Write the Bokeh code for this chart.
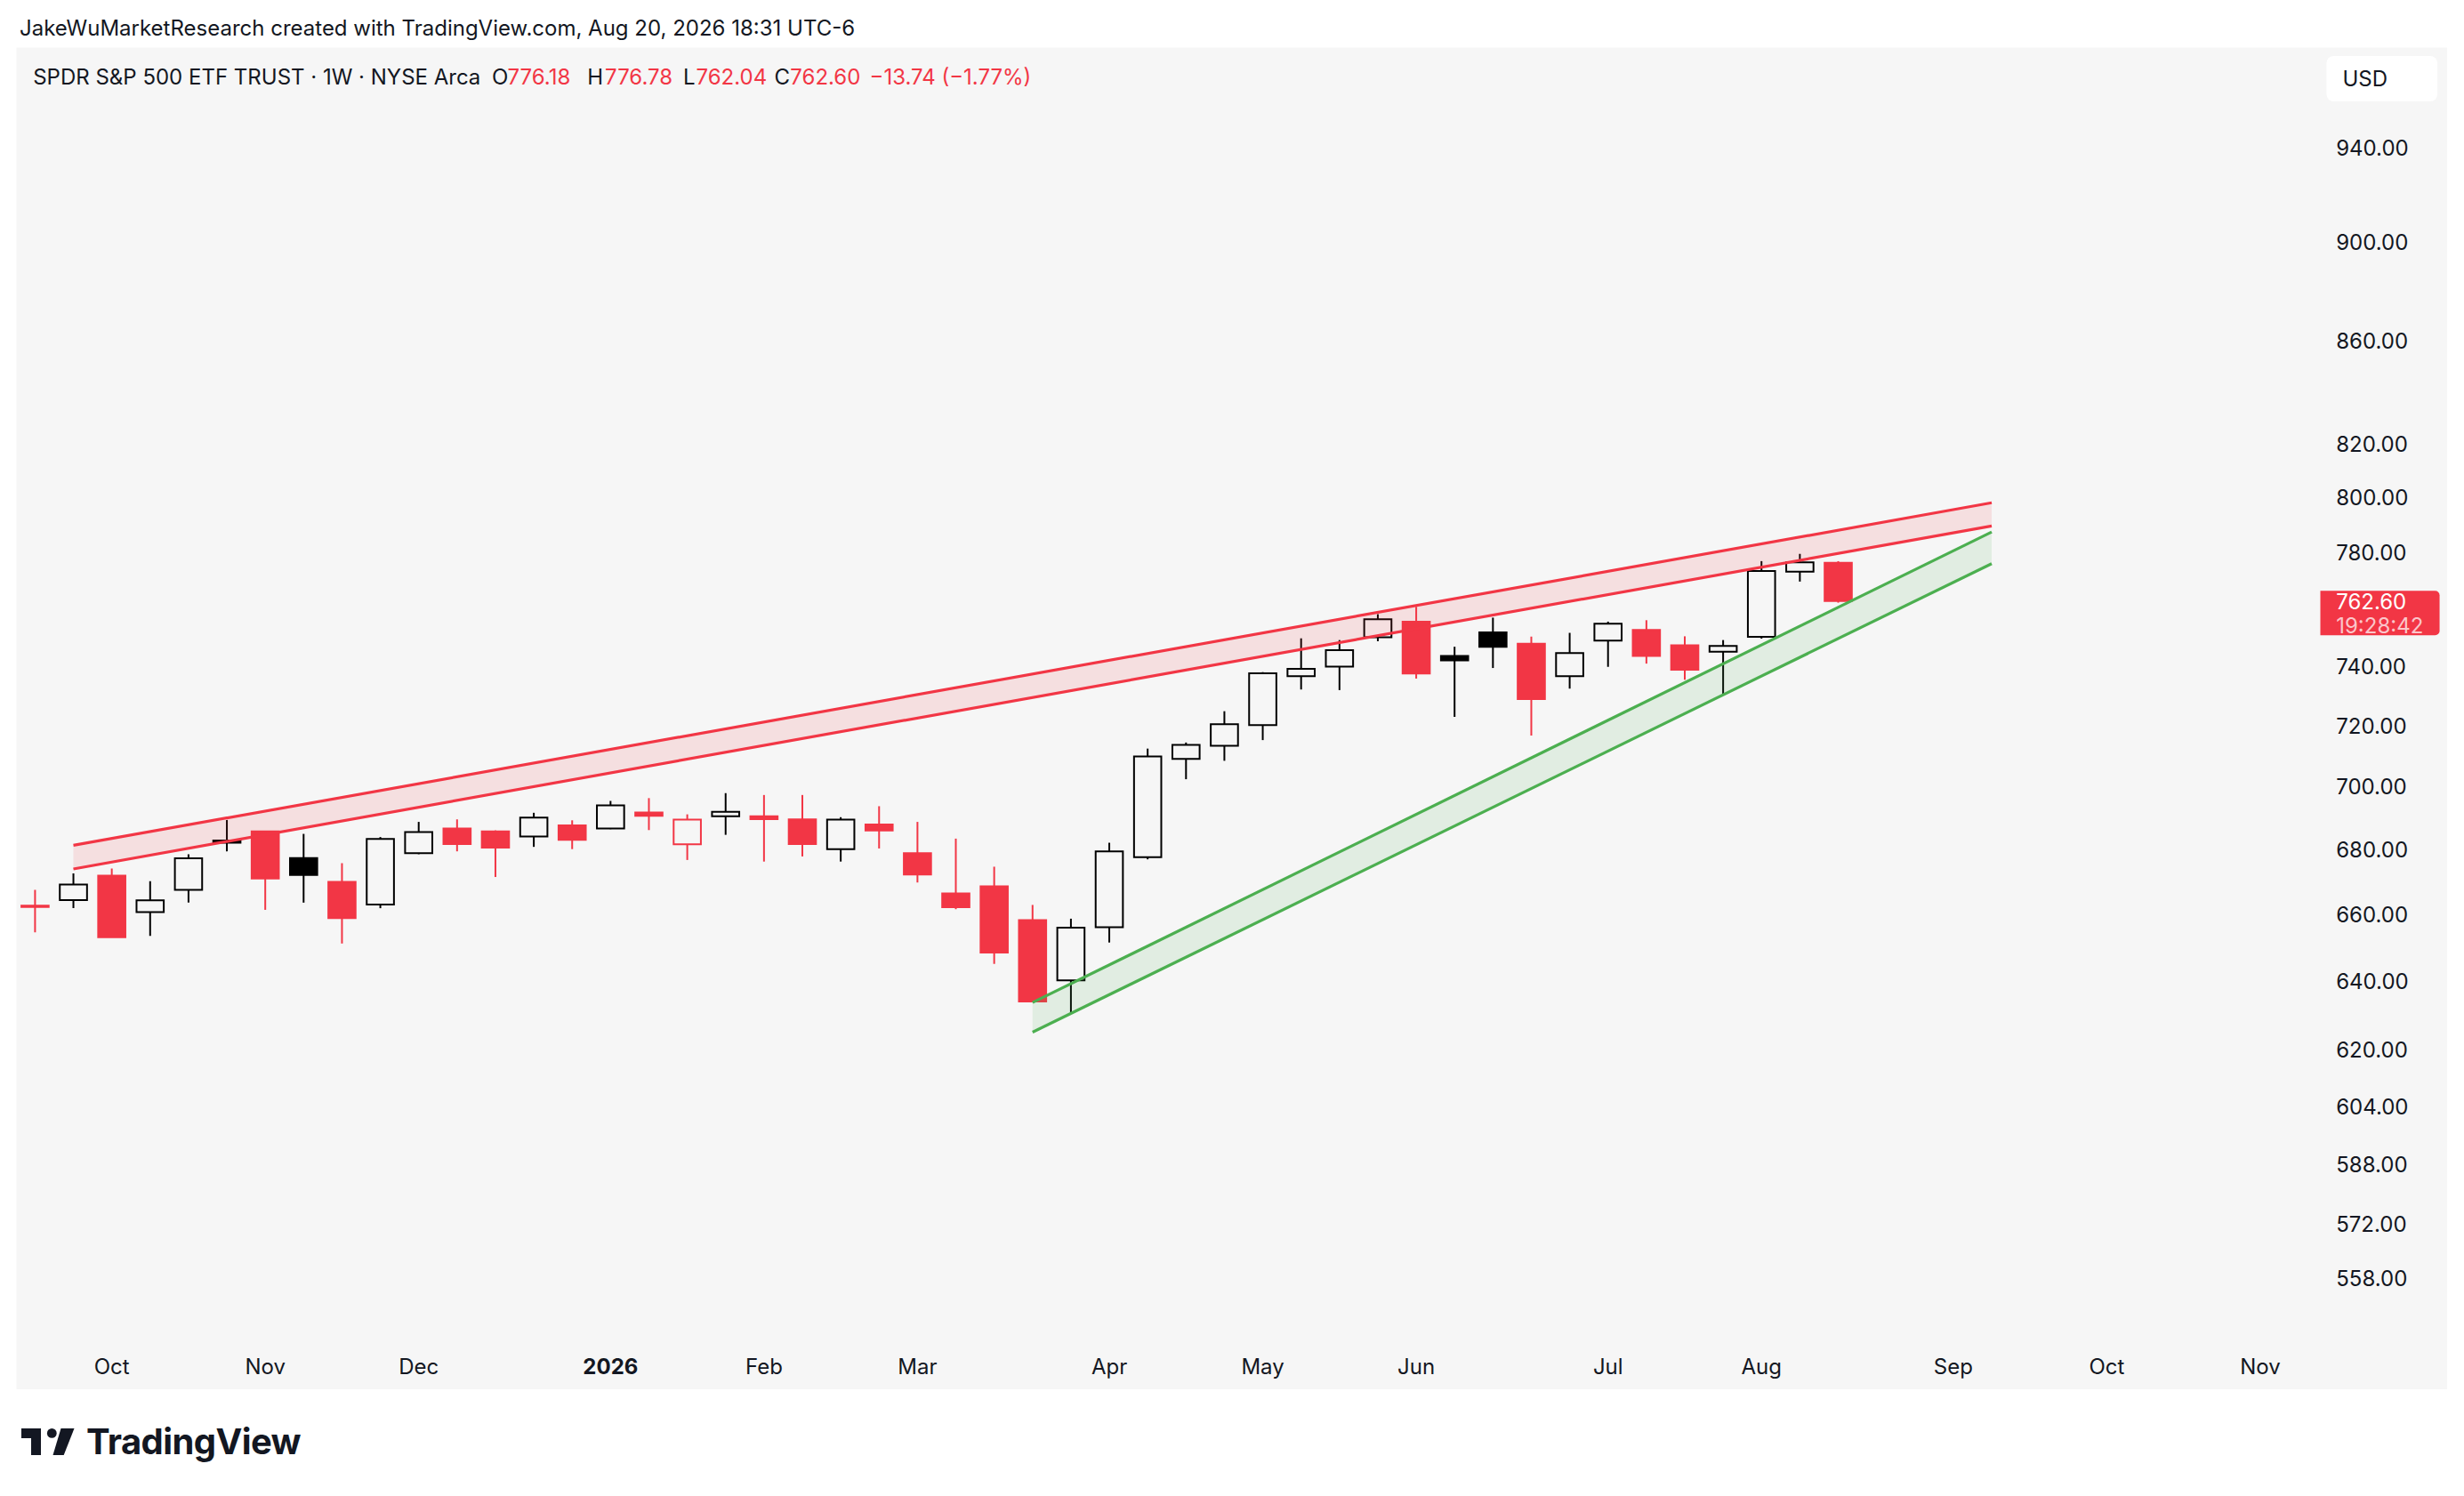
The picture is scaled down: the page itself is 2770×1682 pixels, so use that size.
import numpy as np
import pandas as pd
from bokeh.plotting import figure
from bokeh.models import Range1d, Label, Div, ColumnDataSource
from bokeh.core.properties import value
from bokeh.layouts import column
from bokeh.embed import file_html
from bokeh.resources import INLINE

# ---------------- data ----------------
symbol_title = "SPDR S&P 500 ETF TRUST · 1W · NYSE Arca"
attribution = "JakeWuMarketResearch created with TradingView.com, Aug 20, 2026 18:31 UTC-6"
first_week = "2025-09-22"          # Monday of the first weekly bar
countdown = "19:28:42"
currency = "USD"

opens = [662.6, 664.3, 671.8, 660.6, 667.4, 682.8, 685.7, 677.3, 669.9, 662.9,
         678.8, 686.6, 685.7, 684.1, 687.6, 686.6, 691.7, 681.6, 690.5, 690.5,
         689.5, 680.1, 687.9, 678.8, 666.3, 668.5, 658.2, 640.1, 656.0, 677.6,
         709.0, 713.3, 720.2, 736.6, 739.9, 750.0, 755.4, 743.5, 751.7, 747.7,
         736.6, 748.8, 752.5, 747.2, 745.0, 750.1, 773.0, 776.18]
highs = [667.4, 672.5, 674.0, 670.1, 678.5, 689.3, 685.9, 684.9, 675.7, 683.9,
         688.7, 689.5, 686.0, 691.6, 689.2, 695.4, 696.3, 691.1, 697.9, 697.3,
         697.3, 690.2, 693.7, 688.7, 683.4, 674.6, 662.8, 658.6, 682.1, 712.4,
         714.4, 724.8, 738.0, 749.6, 749.0, 758.0, 760.6, 746.7, 756.8, 750.2,
         751.5, 755.4, 755.9, 750.3, 749.0, 776.8, 779.4, 776.78]
lows = [654.5, 661.8, 653.0, 653.4, 663.5, 679.4, 661.3, 663.5, 651.1, 661.8,
        678.5, 679.4, 671.4, 680.8, 680.1, 686.4, 686.1, 676.7, 684.6, 676.2,
        677.8, 676.2, 680.3, 669.7, 661.5, 645.0, 633.9, 630.4, 651.4, 676.9,
        702.4, 708.4, 715.2, 732.1, 731.9, 748.6, 735.8, 722.9, 739.4, 716.7,
        732.4, 739.8, 740.9, 735.4, 730.4, 749.5, 769.5, 762.04]
closes = [662.2, 669.1, 653.0, 664.2, 677.2, 682.1, 670.9, 672.0, 658.8, 683.3,
          685.5, 681.7, 680.6, 690.1, 683.0, 694.0, 690.6, 689.4, 691.9, 689.6,
          681.7, 689.4, 686.0, 672.2, 662.1, 648.4, 633.9, 655.9, 679.4, 709.8,
          713.6, 720.5, 737.6, 739.1, 745.5, 756.2, 737.5, 742.0, 746.7, 728.9,
          744.5, 754.7, 743.5, 738.8, 747.0, 773.3, 776.34, 762.60]
close_before_first = 663.7

price_ticks = [558, 572, 588, 604, 620, 640, 660, 680, 700, 720, 740, 780, 800, 820, 860, 900, 940]

# channel drawings: anchor bar index and price
red_x = [1, 51]
red_upper = [681.3, 798.0]
red_lower = [673.9, 789.5]
green_x = [26, 51]
green_upper = [633.6, 787.3]
green_lower = [625.0, 775.9]

# ---------------- style / layout ----------------
BG = "#f6f6f6"
TXT = "#131722"
RED = "#F23645"
BLACK = "#000000"
GREEN = "#4CAF50"
FONT = "Inter"

FIG_W, FIG_H = 2733, 1509
X0 = -0.4846
X1 = X0 + FIG_W / 43.13          # 43.13 px per weekly bar
Y1 = 984.6
Y0 = 529.9
PX0, PY0 = 18, 53                # page position of the figure


def xd(px):
    return X0 + (px - PX0) * (X1 - X0) / FIG_W


def yd(py):
    return float(np.exp(np.log(Y1) - (py - PY0) * (np.log(Y1) - np.log(Y0)) / FIG_H))


p = figure(width=FIG_W, height=FIG_H, x_range=Range1d(X0, X1), y_range=Range1d(Y0, Y1),
           y_axis_type="log", x_axis_location=None, y_axis_location=None,
           toolbar_location=None, output_backend="svg", background_fill_color=BG,
           border_fill_color=BG, outline_line_color=None, min_border=0, title=None)
p.margin = (0, 0, 0, 10)
p.grid.visible = False

# ---- candles (hollow-candle style) ----
n = len(closes)
idx = np.arange(n)
prev = [close_before_first] + closes[:-1]
colors = [BLACK if c >= pc else RED for c, pc in zip(closes, prev)]
filled = [c < o for o, c in zip(opens, closes)]
fill_alpha = [1.0 if f else 0.0 for f in filled]
top = np.maximum(opens, closes)
bot = np.minimum(opens, closes)
src = ColumnDataSource(dict(x=idx, h=highs, l=lows, top=top, bot=bot,
                            color=colors, fa=fill_alpha))
p.segment(x0="x", y0="h", x1="x", y1="top", source=src, line_color="color", line_width=2)
p.segment(x0="x", y0="bot", x1="x", y1="l", source=src, line_color="color", line_width=2)
p.vbar(x="x", width=0.71, top="top", bottom="bot", source=src, fill_color="color",
       fill_alpha="fa", line_color="color", line_width=2, line_join="miter")

# ---- channels ----
for xs, up, lo, col in [(red_x, red_upper, red_lower, RED),
                        (green_x, green_upper, green_lower, GREEN)]:
    p.patch(x=[xs[0], xs[1], xs[1], xs[0]], y=[up[0], up[1], lo[1], lo[0]],
            fill_color=col, fill_alpha=0.12, line_color=None)
    p.line(xs, up, line_color=col, line_width=3.2)
    p.line(xs, lo, line_color=col, line_width=3.2)

# ---- price scale labels (on the log scale) ----
p.text(x=[xd(2625.7)] * len(price_ticks), y=price_ticks,
       text=[f"{t:.2f}" for t in price_ticks], text_align="left", text_baseline="middle",
       text_font=value(FONT), text_font_size=value("24px"), text_color=TXT)

# ---- time scale labels: first weekly bar of each month ----
weeks = pd.date_range(first_week, periods=66, freq="7D")
month_idx = [i for i in range(1, len(weeks))
             if weeks[i].month != weeks[i - 1].month and i <= X1 - 1]
month_txt = [str(weeks[i].year) if weeks[i].month == 1 else weeks[i].strftime("%b") for i in month_idx]
month_style = ["bold" if weeks[i].month == 1 else "normal" for i in month_idx]
msrc = ColumnDataSource(dict(x=month_idx, y=[yd(1535.5)] * len(month_idx),
                             t=month_txt, s=month_style))
p.text(x="x", y="y", text="t", source=msrc, text_font_style="s", text_align="center",
       text_baseline="middle", text_font=value(FONT), text_font_size=value("24px"),
       text_color=TXT)

# ---- legend header ----
chg = closes[-1] - closes[-2]
pct = chg / closes[-2] * 100
fmt = lambda v: f"{v:.2f}".replace("-", "\u2212")
header = [(36.7, symbol_title, TXT), (552.5, "O", TXT), (570, fmt(opens[-1]), RED),
          (659.7, "H", TXT), (679.6, fmt(highs[-1]), RED), (767.6, "L", TXT),
          (782, fmt(lows[-1]), RED), (870, "C", TXT), (887.8, fmt(closes[-1]), RED),
          (977, f"{fmt(chg)} ({fmt(pct)}%)", RED)]
for px, t, col in header:
    p.add_layout(Label(x=xd(px), y=yd(85.5), text=t, text_align="left", text_baseline="middle",
                       text_font=FONT, text_font_size="24px", text_color=col))

# ---- currency box (anchor = left edge / middle of the padded box) ----
p.add_layout(Label(x=xd(2615), y=yd(88), text=currency, text_align="left",
                   text_baseline="middle", text_font=FONT, text_font_size="24px",
                   text_color=TXT, background_fill_color="#ffffff",
                   padding=dict(left=18, right=56, top=11, bottom=11),
                   border_radius=8))

# ---- last price tag ----
p.add_layout(Label(x=xd(2608), y=yd(688.8), text=fmt(closes[-1]), text_align="left",
                   text_baseline="middle", text_font=FONT, text_font_size="24px",
                   text_color=RED, background_fill_color=RED,
                   padding=dict(left=17, right=38, top=16, bottom=16),
                   border_radius=dict(top_left=0, top_right=5, bottom_right=5, bottom_left=0)))
p.add_layout(Label(x=xd(2625.7), y=closes[-1], text=fmt(closes[-1]), text_align="left",
                   text_baseline="middle", text_font=FONT, text_font_size="24px",
                   text_color="#ffffff"))
p.add_layout(Label(x=xd(2625.7), y=yd(703.3), text=countdown, text_align="left",
                   text_baseline="middle", text_font=FONT, text_font_size="24px",
                   text_color="#ffffff", text_alpha=0.72))

# ---- page header / footer ----
top_div = Div(text=(f'<div style="font-family:Inter;font-size:24px;color:{TXT};'
                    f'padding-left:14px;padding-top:9px;line-height:30px;white-space:nowrap;">'
                    f'{attribution}</div>'),
              width=2754, height=45, margin=(0, 0, 0, 0))

logo_html = (
    '<div style="position:relative;width:600px;height:110px;">'
    '<svg style="position:absolute;left:16px;top:44px" width="62" height="31" viewBox="0 0 62 31">'
    f'<path d="M0 0 H22 V30 H11 V11 H0 Z" fill="{TXT}"/>'
    f'<circle cx="34.3" cy="5.4" r="5.4" fill="{TXT}"/>'
    f'<path d="M44.5 0 H59.5 L47.7 30 H35.5 Z" fill="{TXT}"/>'
    '</svg>'
    f'<span style="position:absolute;left:89px;top:38px;font-family:Inter;font-weight:700;'
    f'font-size:40px;line-height:41px;letter-spacing:-0.6px;color:{TXT};">TradingView</span>'
    '</div>'
)
bottom_div = Div(text=logo_html, width=600, height=110, margin=(0, 0, 0, 0))

layout = column(top_div, p, bottom_div, spacing=0, margin=(8, 0, 0, 8))
open("out.html", "w").write(file_html(layout, INLINE))
